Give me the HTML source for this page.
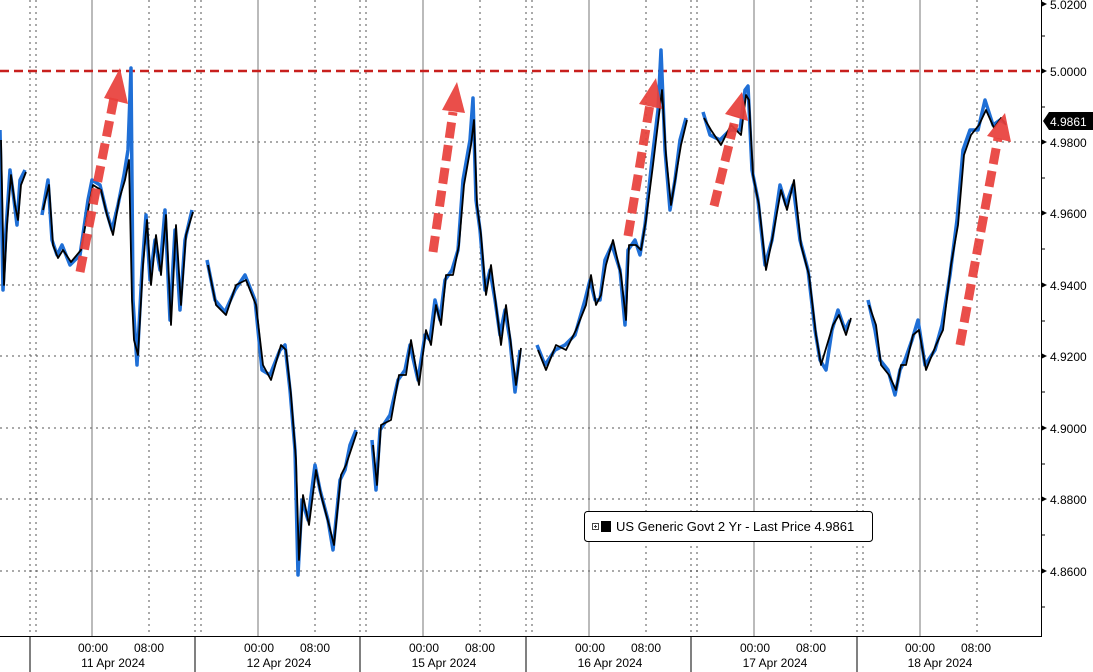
<!DOCTYPE html>
<html><head><meta charset="utf-8"><style>
html,body{margin:0;padding:0;background:#fff;}
svg{display:block;font-family:"Liberation Sans",sans-serif;}
</style></head><body>
<svg width="1093" height="672" viewBox="0 0 1093 672" xmlns="http://www.w3.org/2000/svg">
<rect width="1093" height="672" fill="#fff"/>
<g stroke="#555" stroke-width="1" stroke-dasharray="2,4">
<line x1="0" y1="142" x2="1040" y2="142"/>
<line x1="0" y1="213" x2="1040" y2="213"/>
<line x1="0" y1="285" x2="1040" y2="285"/>
<line x1="0" y1="356" x2="1040" y2="356"/>
<line x1="0" y1="428" x2="1040" y2="428"/>
<line x1="0" y1="499" x2="1040" y2="499"/>
<line x1="0" y1="571" x2="1040" y2="571"/>
</g>
<g stroke="#555" stroke-width="1" stroke-dasharray="2,4">
<line x1="30" y1="0" x2="30" y2="636"/><line x1="36" y1="0" x2="36" y2="636"/><line x1="149" y1="0" x2="149" y2="636"/>
<line x1="195" y1="0" x2="195" y2="636"/><line x1="201" y1="0" x2="201" y2="636"/><line x1="315" y1="0" x2="315" y2="636"/>
<line x1="360" y1="0" x2="360" y2="636"/><line x1="366" y1="0" x2="366" y2="636"/><line x1="480" y1="0" x2="480" y2="636"/>
<line x1="526" y1="0" x2="526" y2="636"/><line x1="532" y1="0" x2="532" y2="636"/><line x1="646" y1="0" x2="646" y2="636"/>
<line x1="691" y1="0" x2="691" y2="636"/><line x1="697" y1="0" x2="697" y2="636"/><line x1="811" y1="0" x2="811" y2="636"/>
<line x1="857" y1="0" x2="857" y2="636"/><line x1="863" y1="0" x2="863" y2="636"/><line x1="977" y1="0" x2="977" y2="636"/>
</g>
<g stroke="#777" stroke-width="1">
<line x1="92" y1="0" x2="92" y2="636"/><line x1="258" y1="0" x2="258" y2="636"/><line x1="423" y1="0" x2="423" y2="636"/>
<line x1="589" y1="0" x2="589" y2="636"/><line x1="754" y1="0" x2="754" y2="636"/><line x1="920" y1="0" x2="920" y2="636"/>
</g>
<line x1="0" y1="636.5" x2="1041" y2="636.5" stroke="#000"/>
<line x1="1041.5" y1="0" x2="1041.5" y2="637" stroke="#000"/>
<g stroke="#000">
<line x1="30" y1="636" x2="30" y2="672"/><line x1="195" y1="636" x2="195" y2="672"/><line x1="360" y1="636" x2="360" y2="672"/>
<line x1="526" y1="636" x2="526" y2="672"/><line x1="691" y1="636" x2="691" y2="672"/><line x1="857" y1="636" x2="857" y2="672"/>
<line x1="1041" y1="36" x2="1045" y2="36"/><line x1="1041" y1="107" x2="1045" y2="107"/><line x1="1041" y1="178" x2="1045" y2="178"/>
<line x1="1041" y1="249" x2="1045" y2="249"/><line x1="1041" y1="321" x2="1045" y2="321"/><line x1="1041" y1="392" x2="1045" y2="392"/>
<line x1="1041" y1="464" x2="1045" y2="464"/><line x1="1041" y1="535" x2="1045" y2="535"/><line x1="1041" y1="607" x2="1045" y2="607"/>
</g>
<g font-size="12" fill="#000">
<polygon points="1041,1 1047,4 1041,7" fill="#000"/><text x="1050" y="9">5.0200</text>
<polygon points="1041,68 1047,71 1041,74"/><text x="1050" y="76">5.0000</text>
<polygon points="1041,139 1047,142 1041,145"/><text x="1050" y="147">4.9800</text>
<polygon points="1041,210 1047,213 1041,216"/><text x="1050" y="218">4.9600</text>
<polygon points="1041,282 1047,285 1041,288"/><text x="1050" y="290">4.9400</text>
<polygon points="1041,353 1047,356 1041,359"/><text x="1050" y="361">4.9200</text>
<polygon points="1041,425 1047,428 1041,431"/><text x="1050" y="433">4.9000</text>
<polygon points="1041,496 1047,499 1041,502"/><text x="1050" y="504">4.8800</text>
<polygon points="1041,568 1047,571 1041,574"/><text x="1050" y="576">4.8600</text>
</g>
<polygon points="1043,121 1049,112 1093,112 1093,130 1049,130" fill="#000"/>
<text x="1050" y="126" font-size="12" fill="#fff">4.9861</text>
<g font-size="12" fill="#000" text-anchor="middle">
<text x="93" y="652">00:00</text><text x="149" y="652">08:00</text><text x="113" y="667">11 Apr 2024</text>
<text x="259" y="652">00:00</text><text x="315" y="652">08:00</text><text x="279" y="667">12 Apr 2024</text>
<text x="424" y="652">00:00</text><text x="480" y="652">08:00</text><text x="444" y="667">15 Apr 2024</text>
<text x="590" y="652">00:00</text><text x="646" y="652">08:00</text><text x="610" y="667">16 Apr 2024</text>
<text x="755" y="652">00:00</text><text x="811" y="652">08:00</text><text x="775" y="667">17 Apr 2024</text>
<text x="920" y="652">00:00</text><text x="976" y="652">08:00</text><text x="940" y="667">18 Apr 2024</text>
</g>
<line x1="0" y1="71" x2="1040" y2="71" stroke="#c8201e" stroke-width="2.5" stroke-dasharray="9,5"/>
<g fill="none" stroke-linejoin="round">
<g stroke="#1f6fd6" stroke-width="3.5">
<polyline points="0,130 3,290 6,230 10,170 14,200 17,225 20,180 25,170"/>
<polyline points="42,215 48,180 52,240 57,255 62,245 70,265 80,255 88,200 92,180 100,185 106,210 112,230 118,205 124,175 128,150 131,68 133,300 137,365 142,270 146,215 150,280 155,240 160,270 165,210 170,320 175,230 180,310 185,240 192,210"/>
<polyline points="207,260 215,300 225,312 235,290 245,275 255,300 262,370 270,375 280,350 285,345 290,390 295,450 298,575 302,500 308,520 315,465 320,490 328,520 333,550 340,480 345,470 350,445 356,430"/>
<polyline points="372,440 376,490 380,430 390,415 398,380 405,370 410,345 418,380 425,335 430,340 435,300 440,320 445,280 452,270 458,250 463,180 470,140 473,98 476,200 480,230 485,290 490,270 495,300 500,335 505,310 510,340 515,392 520,350"/>
<polyline points="537,345 545,365 555,350 565,345 575,335 585,300 590,280 595,300 600,300 605,260 612,245 620,270 625,325 628,250 635,240 640,255 645,225 652,160 658,110 661,50 665,150 670,210 675,180 680,140 686,118"/>
<polyline points="703,112 710,135 720,140 730,130 740,130 745,90 748,86 752,170 758,200 765,265 772,240 780,185 786,205 793,185 800,240 808,270 815,330 820,360 826,370 832,330 838,310 845,330 850,320"/>
<polyline points="868,300 875,330 880,360 888,370 895,395 900,370 905,360 912,340 918,320 925,365 935,350 942,325 950,275 957,220 963,150 970,130 978,130 985,100 993,125 1000,120 1005,123"/>
</g>
<g stroke="#000" stroke-width="1.8">
<polyline points="1,140 4,285 7,225 11,175 15,205 18,220 21,185 26,172"/>
<polyline points="43,210 49,185 53,245 58,258 63,250 71,262 81,250 89,205 93,185 101,190 107,215 113,235 119,200 125,180 129,160 132,300 134,340 138,355 143,265 147,220 151,285 156,235 161,275 166,215 171,325 176,225 181,305 186,235 193,212"/>
<polyline points="208,265 216,305 226,315 236,285 246,280 256,305 263,365 271,380 281,345 286,350 291,395 296,460 299,560 303,495 309,525 316,470 321,495 329,525 334,545 341,475 346,465 351,450 357,432"/>
<polyline points="373,445 377,485 381,425 391,420 399,375 406,375 411,340 419,385 426,330 431,345 436,305 441,325 446,275 453,275 459,245 464,185 471,145 474,120 477,205 481,235 486,295 491,265 496,305 501,345 506,305 511,345 516,385 521,348"/>
<polyline points="538,350 546,370 556,345 566,350 576,330 586,305 591,275 596,305 601,295 606,265 613,240 621,275 626,320 629,245 636,245 641,250 646,220 653,165 659,115 662,90 666,155 671,205 676,175 681,145 687,120"/>
<polyline points="704,118 711,130 721,145 731,125 741,135 746,95 749,100 753,175 759,205 766,270 773,235 781,190 787,210 794,180 801,245 809,275 816,335 821,365 827,345 833,325 839,315 846,335 851,318"/>
<polyline points="869,305 876,325 881,365 889,375 896,390 901,365 906,365 913,335 919,330 926,370 936,345 943,330 951,265 958,225 964,155 971,135 979,125 986,110 994,128 1001,118 1006,125"/>
</g>
</g>
<g stroke="#e8413c" stroke-width="9" stroke-dasharray="16,7" fill="none" stroke-linecap="butt" opacity="0.93">
<line x1="80" y1="272" x2="114" y2="98"/>
<line x1="433" y1="252" x2="453" y2="112"/>
<line x1="628" y1="236" x2="650" y2="104"/>
<line x1="714" y1="206" x2="736" y2="116"/>
<line x1="960" y1="345" x2="998" y2="138"/>
</g>
<g fill="#e8413c" opacity="0.93">
<polygon points="120,68 128,104 104,98"/>
<polygon points="457,82 465,113 442,110"/>
<polygon points="656,78 662,109 639,104"/>
<polygon points="742,92 748,121 725,114"/>
<polygon points="1005,113 1011,142 987,136"/>
</g>
<rect x="584.5" y="511.5" width="288" height="30" rx="3" fill="#fff" stroke="#000"/>
<rect x="592.5" y="523.5" width="6" height="6" fill="#fff" stroke="#444"/>
<line x1="594" y1="526.5" x2="597" y2="526.5" stroke="#444"/><line x1="595.5" y1="525" x2="595.5" y2="528" stroke="#444"/>
<rect x="601" y="521" width="10" height="11" fill="#000"/>
<text x="616" y="531" font-size="13" fill="#000">US Generic Govt 2 Yr - Last Price 4.9861</text>
</svg>
</body></html>
